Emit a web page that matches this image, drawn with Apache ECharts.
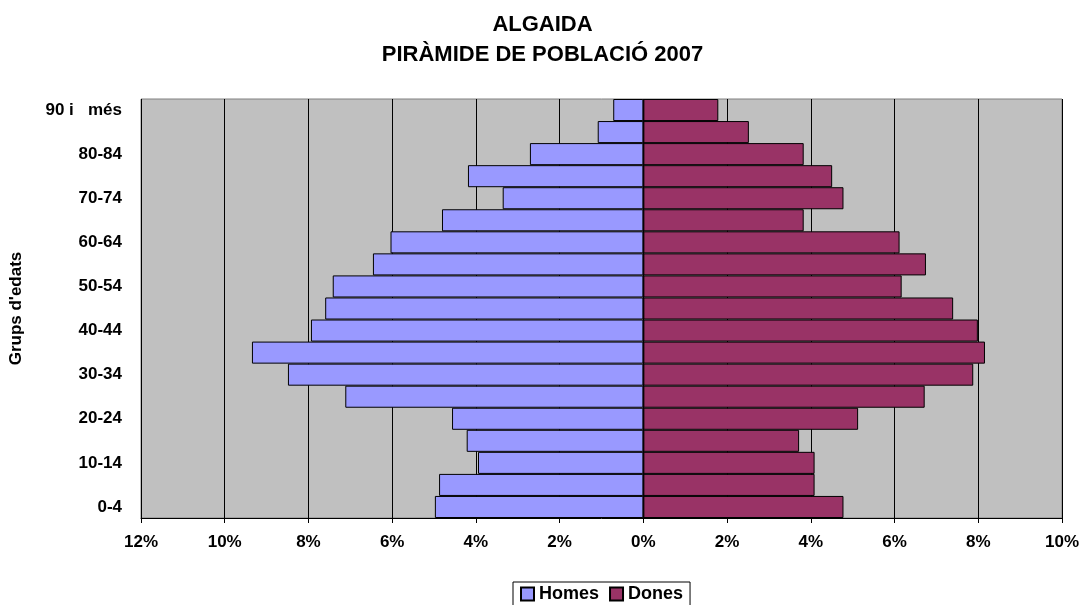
<!DOCTYPE html>
<html>
<head>
<meta charset="utf-8">
<script src="https://cdn.jsdelivr.net/npm/echarts@6/dist/echarts.min.js"></script>
<style>
  html, body { margin: 0; padding: 0; background: #fff; }
  #chart { width: 1085px; height: 605px; }
</style>
</head>
<body>
<div id="chart"></div>
<script>
// grups d'edat, de baix a dalt
const edats = ['0-4', '5-9', '10-14', '15-19', '20-24', '25-29', '30-34', '35-39', '40-44',
  '45-49', '50-54', '55-59', '60-64', '65-69', '70-74', '75-79', '80-84', '85-89', '90 i   més'];
// percentatges llegits del gràfic
const homes = [4.98, 4.88, 3.95, 4.22, 4.57, 7.12, 8.49, 9.35, 7.94,
  7.60, 7.42, 6.46, 6.04, 4.81, 3.36, 4.19, 2.71, 1.09, 0.72];
const dones = [4.78, 4.09, 4.09, 3.72, 5.13, 6.72, 7.88, 8.16, 7.99,
  7.40, 6.17, 6.75, 6.12, 3.83, 4.78, 4.51, 3.83, 2.52, 1.79];

const chart = echarts.init(document.getElementById('chart'));
const font = 'Liberation Sans, Arial, sans-serif';

const option = {
  animation: false,
  title: {
    text: 'ALGAIDA\nPIRÀMIDE DE POBLACIÓ 2007',
    left: 'center',
    top: 5,
    textStyle: { fontFamily: font, fontSize: 22, fontWeight: 'bold', color: '#000', lineHeight: 30 }
  },
  legend: {
    bottom: -1,
    left: 513,
    data: ['Homes', 'Dones'],
    itemWidth: 13,
    itemHeight: 13,
    itemGap: 10,
    padding: [3, 7, 3, 7],
    borderColor: '#000',
    borderWidth: 1,
    backgroundColor: '#fff',
    textStyle: { fontFamily: font, fontSize: 18, fontWeight: 'bold', color: '#000', padding: [0, 0, 0, 0] },
    icon: 'rect'
  },
  grid: {
    left: 140, right: 23, top: 99, bottom: 87,
    show: true,
    backgroundColor: '#C0C0C0',
    borderColor: '#808080',
    borderWidth: 1
  },
  xAxis: {
    type: 'value',
    min: -12,
    max: 10,
    interval: 2,
    axisLine: { show: true, lineStyle: { color: '#000' } },
    axisTick: { show: true, length: 5, lineStyle: { color: '#000' } },
    axisLabel: {
      fontFamily: font, fontSize: 17, fontWeight: 'bold', color: '#000', margin: 16,
      formatter: v => Math.abs(v) + '%'
    },
    splitLine: { show: true, lineStyle: { color: '#000', width: 1 } }
  },
  yAxis: {
    type: 'category',
    data: edats,
    name: "Grups d'edats",
    nameLocation: 'middle',
    nameGap: 116,
    nameTextStyle: { fontFamily: font, fontSize: 17, fontWeight: 'bold', color: '#000' },
    axisLine: { show: false },
    axisTick: { show: false },
    axisLabel: {
      interval: 1,
      fontFamily: font, fontSize: 17, fontWeight: 'bold', color: '#000', margin: 19
    }
  },
  series: [
    {
      name: 'Homes',
      type: 'bar',
      data: homes.map(v => -v),
      barCategoryGap: 0,
      barGap: '-100%',
      itemStyle: { color: '#9999FF', borderColor: '#000', borderWidth: 1 }
    },
    {
      name: 'Dones',
      type: 'bar',
      data: dones,
      barCategoryGap: 0,
      barGap: '-100%',
      itemStyle: { color: '#993366', borderColor: '#000', borderWidth: 1 }
    }
  ]
};

chart.setOption(option);
</script>
</body>
</html>
